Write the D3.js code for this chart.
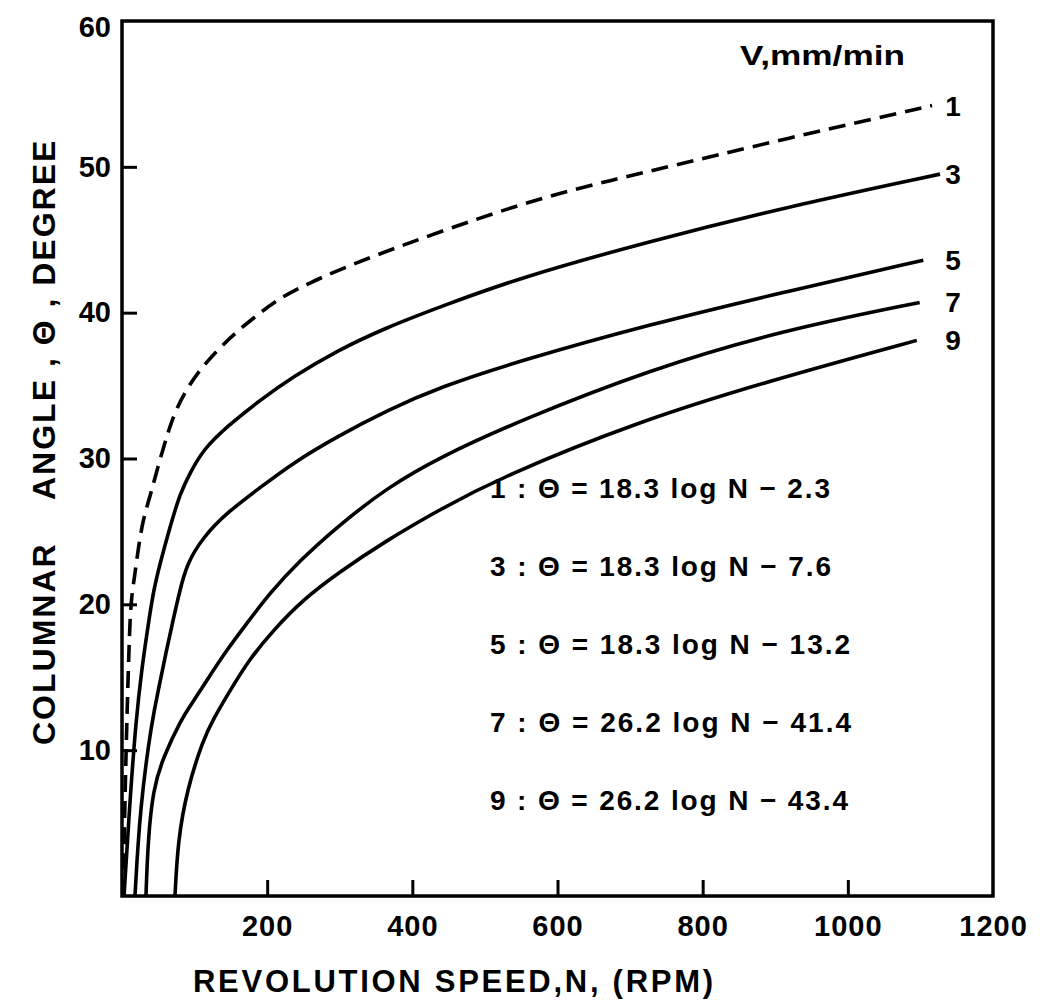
<!DOCTYPE html>
<html><head><meta charset="utf-8">
<script src="https://cdn.jsdelivr.net/npm/d3@7"></script>
<style>
body{margin:0;background:#fff}
text{font-family:"Liberation Sans",Arial,Helvetica,sans-serif;font-weight:bold;fill:#000}
</style>
</head><body>
<svg id="chart" width="1049" height="1003"></svg>
<script>
// ---- data ----
const speedTicks = [200, 400, 600, 800, 1000, 1200];
const angleTicks = [10, 20, 30, 40, 50, 60];
const seriesLabels = ["1", "3", "5", "7", "9"];

const rpm1   = [1.4, 5.5, 8.3, 11, 13.8, 17.9, 22, 28.9, 38.6, 48.2, 59.2, 66.1, 75.8, 89.6, 107.5, 130.9, 155.7, 180.5, 213.6, 252, 328, 548, 659, 727, 920, 1116];
const angle1 = [0, 10.0, 14.8, 19.1, 20.8, 22.1, 23.7, 25.8, 27.4, 29.2, 31.1, 32.2, 33.5, 34.8, 36.1, 37.4, 38.6, 39.6, 40.9, 41.9, 43.6, 47.5, 48.9, 49.7, 52.0, 54.2];

const rpm3   = [2.8, 11, 19.3, 27.6, 34.4, 42.7, 52.4, 66.1, 79.9, 93.7, 111.6, 144.7, 190.1, 235.6, 296.2, 365.1, 438.1, 548, 727, 911, 1127];
const angle3 = [0, 6.6, 12.1, 15.7, 18.0, 20.8, 22.8, 25.3, 27.6, 29.0, 30.6, 32.2, 34.0, 35.6, 37.4, 39.0, 40.4, 42.4, 44.9, 47.2, 49.5];

const rpm5   = [17.9, 24.8, 41.3, 51, 60.6, 70.3, 79.9, 89.6, 111.6, 144.7, 190.1, 235.6, 296.2, 365.1, 438.1, 548, 727, 911, 1104];
const angle5 = [0, 6.1, 12.1, 14.3, 16.7, 18.9, 21.0, 22.8, 24.6, 26.3, 28.0, 29.7, 31.5, 33.3, 34.9, 36.7, 39.2, 41.4, 43.6];

const rpm7   = [33, 35.8, 42.7, 56.5, 82.7, 93.7, 117, 144.7, 172, 204, 245, 296, 365, 438, 548, 727, 911, 1099];
const angle7 = [0, 3.8, 7.3, 9.5, 12.2, 13.0, 14.8, 16.9, 18.7, 20.8, 23.0, 25.3, 28.0, 30.1, 32.6, 36.1, 38.8, 40.7];

const rpm9   = [73, 77, 89.6, 111.6, 125.4, 149, 175, 208, 249, 296, 365, 438, 521, 714, 897, 1095];
const angle9 = [0, 3.8, 7.3, 10.7, 12.1, 14.1, 16.2, 18.2, 20.3, 22.1, 24.4, 26.5, 28.7, 32.6, 35.4, 38.1];

const equations = [
  "1 : Θ = 18.3 log N − 2.3",
  "3 : Θ = 18.3 log N − 7.6",
  "5 : Θ = 18.3 log N − 13.2",
  "7 : Θ = 26.2 log N − 41.4",
  "9 : Θ = 26.2 log N − 43.4"
];
const legendTitle = "V,mm/min";
const xTitle = "REVOLUTION SPEED,N, (RPM)";
const yTitle = "COLUMNAR    ANGLE , Θ , DEGREE";

// ---- layout ----
const eqWidths = [340, 341, 360, 361, 358];

const svg = d3.select("#chart");
const x = d3.scaleLinear().domain([0, 1200]).range([122, 993]);
const y = d3.scaleLinear().domain([0, 60]).range([896, 21]);

const series = [
  {label: seriesLabels[0], rpm: rpm1, ang: angle1, dashed: true},
  {label: seriesLabels[1], rpm: rpm3, ang: angle3},
  {label: seriesLabels[2], rpm: rpm5, ang: angle5},
  {label: seriesLabels[3], rpm: rpm7, ang: angle7},
  {label: seriesLabels[4], rpm: rpm9, ang: angle9}
];

// frame
svg.append("rect")
  .attr("x", x(0)).attr("y", y(60))
  .attr("width", x(1200) - x(0)).attr("height", y(0) - y(60))
  .attr("fill", "none").attr("stroke", "#000").attr("stroke-width", 3.5);

// x axis
const gx = svg.append("g").attr("transform", `translate(0,${y(0)})`)
  .call(d3.axisBottom(x).tickValues(speedTicks).tickFormat(d3.format("d"))
    .tickSize(-16).tickSizeOuter(0).tickPadding(19));
gx.select(".domain").remove();
gx.selectAll(".tick line").attr("stroke", "#000").attr("stroke-width", 3)
  .filter(d => d === 1200).remove();
gx.selectAll(".tick text").attr("font-size", 29).attr("letter-spacing", 1).attr("fill", "#000");

// y axis
const gy = svg.append("g").attr("transform", `translate(${x(0)},0)`)
  .call(d3.axisLeft(y).tickValues(angleTicks).tickFormat(d3.format("d"))
    .tickSize(-15).tickSizeOuter(0).tickPadding(11));
gy.select(".domain").remove();
gy.selectAll(".tick line").attr("stroke", "#000").attr("stroke-width", 3)
  .filter(d => d === 60).remove();
gy.selectAll(".tick text").attr("font-size", 29).attr("fill", "#000");
gy.selectAll(".tick").filter(d => d === 60).select("text").attr("dy", "0.55em");

// curves
const line = d3.line().x(d => x(d[0])).y(d => y(d[1])).curve(d3.curveBasis);
series.forEach(s => {
  const pts = s.rpm.map((r, i) => [r, s.ang[i]]);
  svg.append("path").datum(pts)
    .attr("d", line)
    .attr("fill", "none").attr("stroke", "#000")
    .attr("stroke-width", 3.6)
    .attr("stroke-linecap", "butt")
    .attr("stroke-dasharray", s.dashed ? "17,9" : null);
  const last = pts[pts.length - 1];
  svg.append("text")
    .attr("x", x(1145)).attr("y", y(last[1]) + 10)
    .attr("text-anchor", "middle").attr("font-size", 28)
    .text(s.label);
});

// legend title
svg.append("text").attr("x", 740).attr("y", 65)
  .attr("font-size", 27).attr("textLength", 165).attr("lengthAdjust", "spacingAndGlyphs")
  .text(legendTitle);

// equations
equations.forEach((t, i) => {
  svg.append("text").attr("x", 490).attr("y", 498 + i * 78)
    .attr("font-size", 28).attr("textLength", eqWidths[i]).attr("lengthAdjust", "spacing")
    .text(t);
});

// axis titles
svg.append("text").attr("x", 453).attr("y", 992)
  .attr("text-anchor", "middle").attr("font-size", 31)
  .attr("textLength", 520).attr("lengthAdjust", "spacing")
  .text(xTitle);
svg.append("text").attr("transform", "translate(55,745) rotate(-90)")
  .attr("text-anchor", "start").attr("font-size", 32)
  .attr("letter-spacing", 2)
  .style("white-space", "pre")
  .text(yTitle);
</script>
</body></html>
